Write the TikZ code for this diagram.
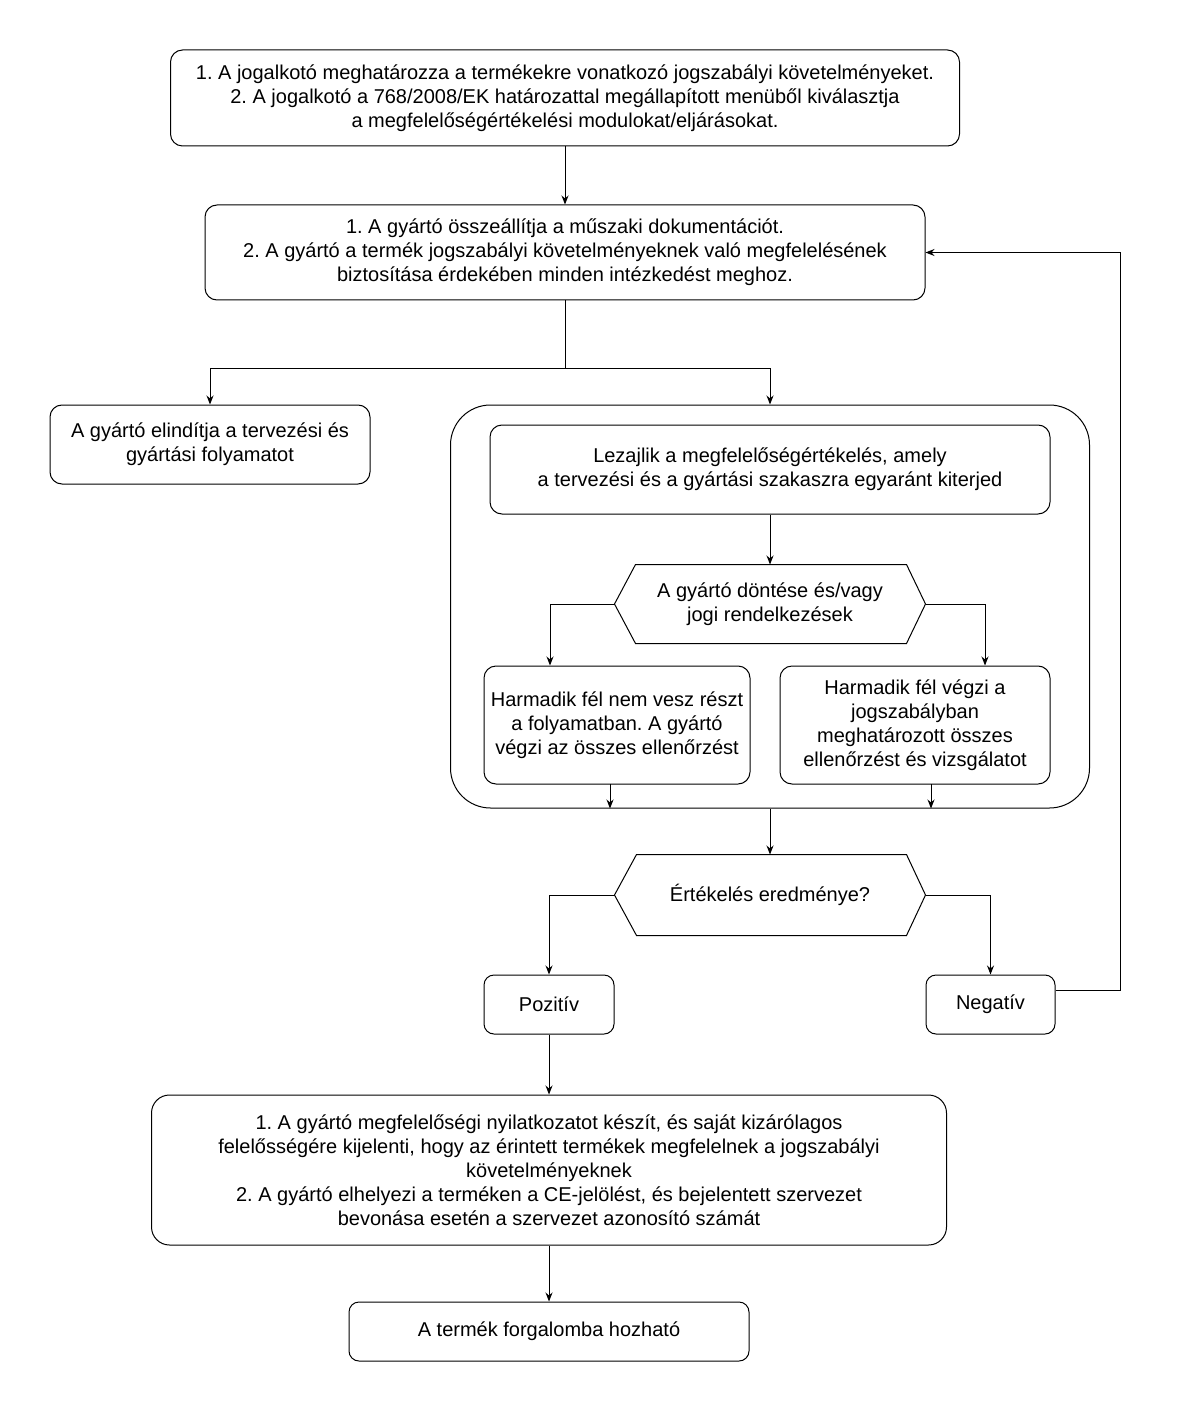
\documentclass[tikz,border=0pt]{standalone}
\usepackage{fontspec}
\setmainfont{Liberation Sans}
\usetikzlibrary{arrows.meta}
\frenchspacing
\begin{document}
\begin{tikzpicture}[x=1pt,y=-1pt,
  line width=1pt,
  box/.style={draw, rounded corners=12pt, align=center, inner sep=0pt,
    font={\frenchspacing\fontsize{20}{24}\selectfont}},
  plain/.style={align=center, inner sep=0pt, font={\frenchspacing\fontsize{20}{24}\selectfont}},
  arr/.style={-{Stealth[length=9pt,width=7pt]}},
  hexa/.style={draw}]
\useasboundingbox (0,0) rectangle (1180,1412);

\node[box, minimum width=789pt, minimum height=96pt] (b1) at (565,98)
  {1. A jogalkotó meghatározza a termékekre vonatkozó jogszabályi követelményeket.\\
   2. A jogalkotó a 768/2008/EK határozattal megállapított menüből kiválasztja\\
   a megfelelőségértékelési modulokat/eljárásokat.};

\node[box, minimum width=720pt, minimum height=95pt] (b2) at (565,252.5)
  {1. A gyártó összeállítja a műszaki dokumentációt.\\
   2. A gyártó a termék jogszabályi követelményeknek való megfelelésének\\
   biztosítása érdekében minden intézkedést meghoz.};

\node[box, minimum width=320pt, minimum height=79pt] (b3) at (210,444.5)
  {A gyártó elindítja a tervezési és\\ gyártási folyamatot};

\node[draw, rounded corners=40pt, minimum width=639pt, minimum height=403pt, inner sep=0pt] (cont) at (770,606.5) {};

\node[box, minimum width=560pt, minimum height=89pt] (b4) at (770,469.5)
  {Lezajlik a megfelelőségértékelés, amely\\ a tervezési és a gyártási szakaszra egyaránt kiterjed};

\node[plain, minimum width=310pt, minimum height=78pt] (h1) at (770,604)
  {A gyártó döntése és/vagy\\ jogi rendelkezések};
\draw[hexa] (h1.west) -- ([xshift=21pt]h1.north west) -- ([xshift=-19pt]h1.north east)
  -- (h1.east) -- ([xshift=-19pt]h1.south east) -- ([xshift=21pt]h1.south west) -- cycle;

\node[box, minimum width=266pt, minimum height=118pt] (b5) at (617,725)
  {Harmadik fél nem vesz részt\\ a folyamatban. A gyártó\\ végzi az összes ellenőrzést};
\node[box, minimum width=270pt, minimum height=118pt] (b6) at (915,725)
  {Harmadik fél végzi a\\ jogszabályban\\ meghatározott összes\\ ellenőrzést és vizsgálatot};

\node[plain, minimum width=310pt, minimum height=80pt] (h2) at (770,895)
  {Értékelés eredménye?};
\draw[hexa] (h2.west) -- ([xshift=22pt]h2.north west) -- ([xshift=-19pt]h2.north east)
  -- (h2.east) -- ([xshift=-19pt]h2.south east) -- ([xshift=22pt]h2.south west) -- cycle;

\node[box, rounded corners=10pt, minimum width=130pt, minimum height=59pt] (poz) at (549,1004.5) {Pozitív};
\node[box, rounded corners=10pt, minimum width=129pt, minimum height=59pt] (neg) at (990.5,1004.5) {Negatív};

\node[box, rounded corners=18pt, minimum width=795pt, minimum height=150pt] (b7) at (549,1170)
  {1. A gyártó megfelelőségi nyilatkozatot készít, és saját kizárólagos\\
   felelősségére kijelenti, hogy az érintett termékek megfelelnek a jogszabályi\\
   követelményeknek\\
   2. A gyártó elhelyezi a terméken a CE-jelölést, és bejelentett szervezet\\
   bevonása esetén a szervezet azonosító számát};

\node[box, rounded corners=10pt, minimum width=400pt, minimum height=59pt] (b8) at (549,1331.5)
  {A termék forgalomba hozható};

% connectors
\draw[arr] (b1.south) -- (b2.north);
\coordinate (j1) at (565,368);
\draw (b2.south) -- (j1);
\draw[arr] (j1) -| (b3.north);
\draw[arr] (j1) -| (cont.north);
\draw[arr] (b4.south) -- (h1.north);
\coordinate (h1l) at (550,604);
\coordinate (h1r) at (985,604);
\draw[arr] (h1.west) -- (h1l) -- (h1l |- b5.north);
\draw[arr] (h1.east) -- (h1r) -- (h1r |- b6.north);
\coordinate (b5o) at (610,784);
\coordinate (b6o) at (931,784);
\draw[arr] (b5o) -- (b5o |- cont.south);
\draw[arr] (b6o) -- (b6o |- cont.south);
\draw[arr] (cont.south) -- (h2.north);
\draw[arr] (h2.west) -| (poz.north);
\draw[arr] (h2.east) -| (neg.north);
\coordinate (fb) at (1120,990);
\draw[arr] (neg.east |- fb) -- (fb) |- (b2.east);
\draw[arr] (poz.south) -- (b7.north);
\draw[arr] (b7.south) -- (b8.north);
\end{tikzpicture}
\end{document}
